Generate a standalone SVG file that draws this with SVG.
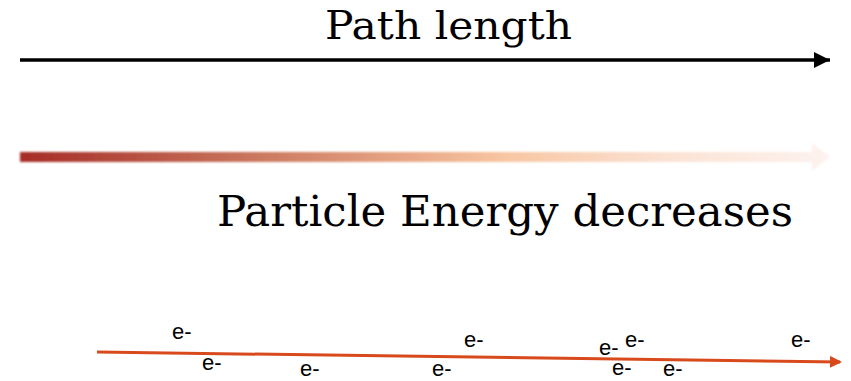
<svg xmlns="http://www.w3.org/2000/svg" width="851" height="381" viewBox="0 0 851 381">
<style>
.title{font-family:"DejaVu Serif","Liberation Serif",serif;fill:#000;}
.e{font-family:"Liberation Sans",Arial,sans-serif;font-size:22px;fill:#000;}
</style>
<defs>
<linearGradient id="grad" x1="20" y1="0" x2="830" y2="0" gradientUnits="userSpaceOnUse">
<stop offset="0" stop-color="#a62c26"/>
<stop offset="0.25" stop-color="#c46c56"/>
<stop offset="0.45" stop-color="#e4a080"/>
<stop offset="0.6" stop-color="#f8c6a2"/>
<stop offset="0.8" stop-color="#fbe2d4"/>
<stop offset="1" stop-color="#fdf3ee"/>
</linearGradient>
<filter id="soft" x="-2%" y="-50%" width="104%" height="200%">
<feGaussianBlur stdDeviation="0.8"/>
</filter>
<marker id="blackhead" markerUnits="userSpaceOnUse" markerWidth="18" markerHeight="18" refX="16" refY="8" orient="auto">
<path d="M0,0 L16,8 L0,16 Z" fill="#000"/>
</marker>
<marker id="orangehead" markerUnits="userSpaceOnUse" markerWidth="14" markerHeight="14" refX="10" refY="6" orient="auto">
<path d="M0,0 L12,6 L0,12 Z" fill="#d84a1c"/>
</marker>
</defs>
<g id="connectors">
<line id="path-length-arrow" x1="20" y1="60" x2="830" y2="60" stroke="#000" stroke-width="3.5" marker-end="url(#blackhead)"/>
<path id="energy-arrow" d="M20,152 L812,152 L812,143 L830,157 L812,171 L812,162 L20,162 Z" fill="url(#grad)" filter="url(#soft)"/>
<line id="particle-track" x1="97" y1="352" x2="840" y2="362" stroke="#d84a1c" stroke-width="3" marker-end="url(#orangehead)"/>
</g>
<g id="label-path-length">
<text class="title" x="325" y="39" font-size="39" textLength="247" lengthAdjust="spacingAndGlyphs">Path length</text>
</g>
<g id="label-energy">
<text class="title" x="217" y="226" font-size="43" textLength="576" lengthAdjust="spacingAndGlyphs">Particle Energy decreases</text>
</g>
<g id="electrons">
<text class="e" x="172" y="339">e-</text>
<text class="e" x="202" y="370">e-</text>
<text class="e" x="300" y="376">e-</text>
<text class="e" x="432" y="376">e-</text>
<text class="e" x="464" y="347">e-</text>
<text class="e" x="599" y="355">e-</text>
<text class="e" x="625" y="347">e-</text>
<text class="e" x="612" y="375">e-</text>
<text class="e" x="663" y="376">e-</text>
<text class="e" x="791" y="347">e-</text>
</g>
</svg>
